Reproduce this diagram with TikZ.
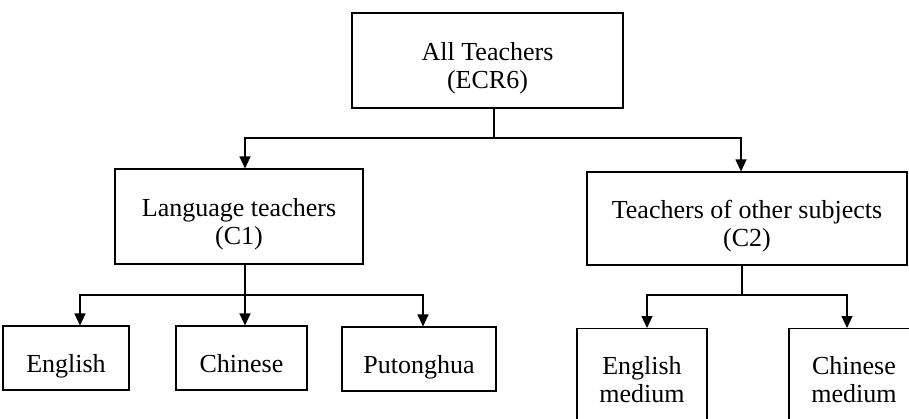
\documentclass[tikz,border=0pt]{standalone}
\usepackage{fontspec}
\setmainfont{Liberation Serif}
\usetikzlibrary{arrows.meta,positioning}
\tikzset{
  box/.style={draw, rectangle, line width=1.1pt, align=center, inner sep=0pt, font=\fontsize{26}{28}\selectfont},
  single/.style={box, minimum height=64, text height=34pt, text depth=6pt},
  link/.style={line width=1.1pt},
  arr/.style={line width=1.1pt, -{Triangle[length=12pt,width=11pt]}}
}
\newcommand{\lowtext}{\rule{0pt}{34pt}}
\begin{document}
\begin{tikzpicture}[x=1pt,y=-1pt]
\useasboundingbox (0,0) rectangle (909,418);
\clip (0,0) rectangle (909,418);

% Top level
\node[box, minimum width=271, minimum height=95] (all) at (487.5,60.5) {\lowtext All Teachers\\(ECR6)};

% Second level
\node[box, minimum width=248, minimum height=95] (lang) at (239,216.5) {\lowtext Language teachers\\(C1)};
\node[box, minimum width=320, minimum height=93] (other) at (747,218.5) {\lowtext Teachers of other subjects\\(C2)};

% Third level
\node[single, minimum width=126] (eng) at (66,358) {English};
\node[single, minimum width=131] (chi) at (241.5,358) {Chinese};
\node[single, minimum width=154] (put) at (419,359) {Putonghua};
\node[box, minimum width=130, minimum height=130, anchor=north] (engmed) at (642,328) {English\\medium\\~};
\node[box, minimum width=130, minimum height=130, anchor=north] (chimed) at (854,328) {Chinese\\medium\\~};

% Links from the top box
\coordinate (fork0) at (494,138);
\draw[link] (all.south -| fork0) -- (fork0);
\draw[arr] (fork0) -| ([xshift=6]lang.north);
\draw[arr] (fork0) -| ([xshift=-6]other.north);

% Links from the language box
\coordinate (fork1) at (245,295);
\draw[link] (lang.south -| fork1) -- (fork1);
\draw[arr] (fork1) -| ([xshift=14]eng.north);
\draw[arr] (fork1) -- (chi.north -| fork1);
\draw[arr] (fork1) -| ([xshift=4]put.north);

% Links from the other-subjects box
\coordinate (fork2) at (742,295);
\draw[link] (other.south -| fork2) -- (fork2);
\draw[arr] (fork2) -| ([xshift=5]engmed.north);
\draw[arr] (fork2) -| ([xshift=-7]chimed.north);
\end{tikzpicture}
\end{document}
